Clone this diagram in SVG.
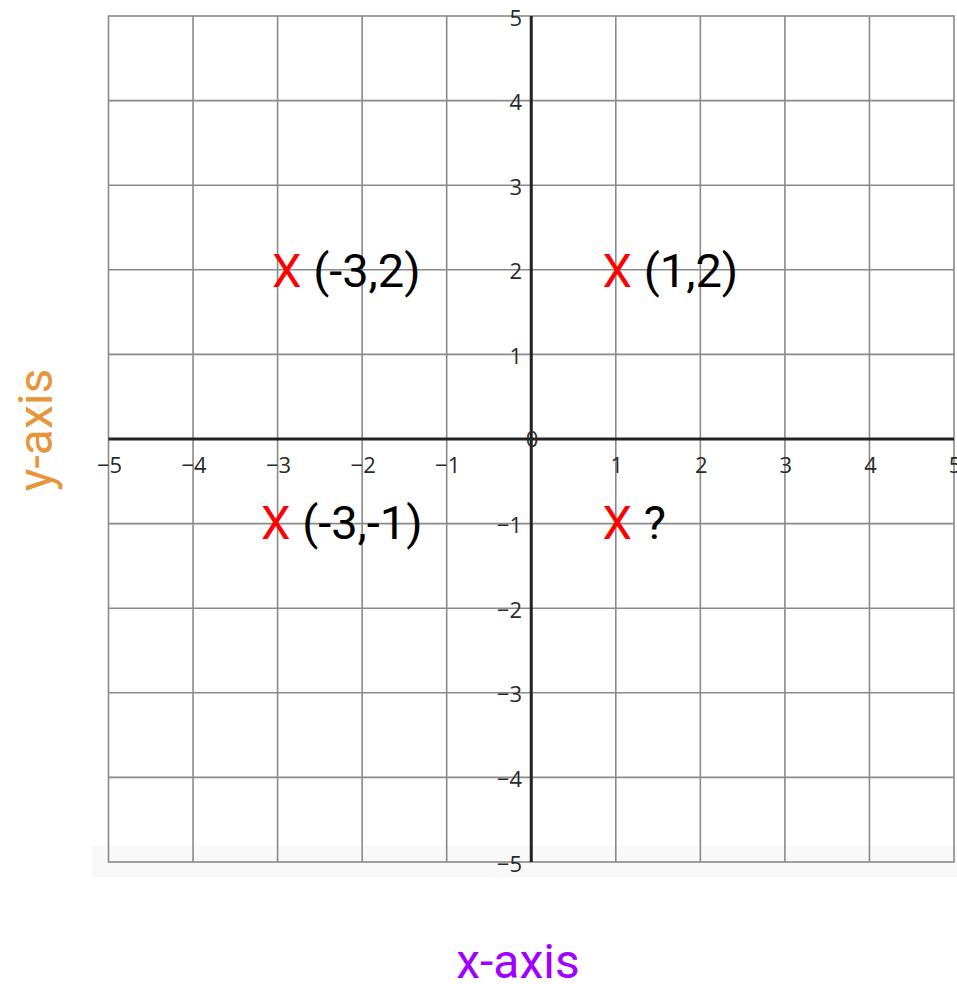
<svg xmlns="http://www.w3.org/2000/svg" width="957" height="984" viewBox="0 0 957 984">
<style>
.grid{stroke:#8a8a8a;stroke-width:1.6;fill:none}
.axis{stroke:#222;stroke-width:3;fill:none}
.tick{font-family:"Open Sans","DejaVu Sans",sans-serif;font-size:22px;fill:#2a2a2a}
.tx{text-anchor:middle}
.ty{text-anchor:end}
.pt{font-family:Roboto,"Liberation Sans",sans-serif;font-size:47px;fill:#000}
.mk{fill:#ff0000}
.lbl{font-family:Roboto,"Liberation Sans",sans-serif;font-size:48px;text-anchor:middle}
</style>
<rect x="0" y="0" width="957" height="984" fill="#ffffff"/>
<rect x="92" y="846" width="865" height="31" fill="#f9f9f9"/>
<g id="grid">
<rect x="108.5" y="16" width="845.5" height="846" fill="#ffffff" class="grid"/>
<path class="grid" d="M193.05 16V862M277.6 16V862M362.15 16V862M446.7 16V862M615.8 16V862M700.35 16V862M784.9 16V862M869.45 16V862M108.5 100.6H954M108.5 185.2H954M108.5 269.8H954M108.5 354.4H954M108.5 523.6H954M108.5 608.2H954M108.5 692.8H954M108.5 777.4H954"/>
</g>
<g id="axes">
<path class="axis" d="M108.5 439H954M531.25 16V862"/>
</g>
<g id="x-ticks" class="tick tx">
<text x="109.5" y="472.5">−5</text>
<text x="194" y="472.5">−4</text>
<text x="278.6" y="472.5">−3</text>
<text x="363.2" y="472.5">−2</text>
<text x="447.7" y="472.5">−1</text>
<text x="616.8" y="472.5">1</text>
<text x="701.4" y="472.5">2</text>
<text x="785.9" y="472.5">3</text>
<text x="870.5" y="472.5">4</text>
<text x="955" y="472.5">5</text>
</g>
<g id="y-ticks" class="tick ty">
<text x="522" y="25.5">5</text>
<text x="522" y="110">4</text>
<text x="522" y="194.7">3</text>
<text x="522" y="279.3">2</text>
<text x="522" y="364">1</text>
<text x="522" y="533">−1</text>
<text x="522" y="617.7">−2</text>
<text x="522" y="702.3">−3</text>
<text x="522" y="787">−4</text>
<text x="522" y="871.5">−5</text>
<text x="532" y="447" style="text-anchor:middle">0</text>
</g>
<g id="p1"><text class="pt" x="272" y="286.5"><tspan class="mk">X</tspan> (-3,2)</text></g>
<g id="p2"><text class="pt" x="602.5" y="286.5"><tspan class="mk">X</tspan> (1,2)</text></g>
<g id="p3"><text class="pt" x="261" y="538.5"><tspan class="mk">X</tspan> (-3,-1)</text></g>
<g id="p4"><text class="pt" x="602.5" y="538.5"><tspan class="mk">X</tspan> ?</text></g>
<g id="labels">
<text class="lbl" x="518" y="978" fill="#a000ff">x-axis</text>
<text class="lbl" transform="translate(52,430) rotate(-90)" fill="#e8943a">y-axis</text>
</g>
</svg>
